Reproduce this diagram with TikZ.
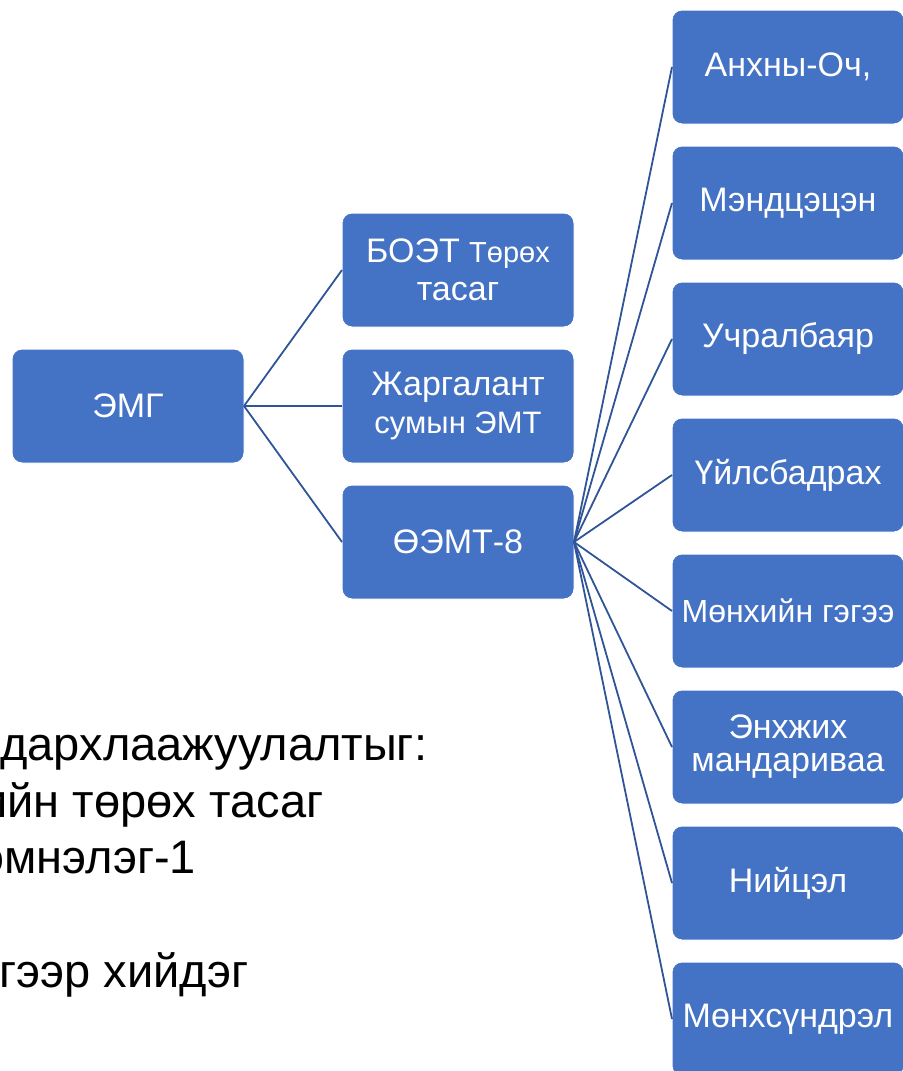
\documentclass[tikz,border=0pt]{standalone}
\usepackage{fontspec}
\setmainfont{Liberation Sans}
\usetikzlibrary{positioning}
\definecolor{boxblue}{HTML}{4472C4}
\definecolor{linkblue}{HTML}{2F5597}
\tikzset{orgbox/.style={rectangle,rounded corners=5pt,draw=white,line width=0.5pt,fill=boxblue,
text=white,align=center,inner sep=2pt,outer sep=0pt,minimum height=57pt, minimum width=116pt,
font=\fontsize{17}{19}\selectfont}}
\tikzset{orglink/.style={draw=linkblue,line width=0.9pt}}
\tikzset{notetext/.style={anchor=base west,inner sep=0pt,text=black,
font=\fontsize{23.5}{28}\selectfont}}

\begin{document}
\begin{tikzpicture}[x=0.5pt,y=-0.5pt]
        \clip (0,0) rectangle (903,1071);

        \node[orgbox] (emg) at (128,406) {ЭМГ};

        \node[orgbox] (jargalant) [right=49pt of emg] {Жаргалант\\{\fontsize{15.5}{18}\selectfont сумын ЭМТ}};
        \node[orgbox] (boet) [above=11pt of jargalant] {БОЭТ {\fontsize{14.5}{18}\selectfont Төрөх}\\тасаг};
        \node[orgbox] (oemt) [below=11pt of jargalant] {ӨЭМТ-8};

        \node[orgbox] (anhnyoch) at (788,67) {Анхны-Оч,};
        \node[orgbox] (mendtsetsen) [below=11pt of anhnyoch] {Мэндцэцэн};
        \node[orgbox] (uchralbayar) [below=11pt of mendtsetsen] {Учралбаяр};
        \node[orgbox] (uilsbadrah) [below=11pt of uchralbayar] {Үйлсбадрах};
        \node[orgbox,font=\fontsize{16}{18}\selectfont] (monhiingegee) [below=11pt of uilsbadrah] {Мөнхийн гэгээ};
        \node[orgbox,font=\fontsize{17}{16.5}\selectfont] (enhjih) [below=11pt of monhiingegee] {Энхжих\\мандариваа};
        \node[orgbox] (niitsel) [below=11pt of enhjih] {Нийцэл};
        \node[orgbox] (monhsundrel) [below=11pt of niitsel] {Мөнхсүндрэл};

        \draw [orglink] (emg.east) -- (boet.west);
        \draw [orglink] (emg.east) -- (jargalant.west);
        \draw [orglink] (emg.east) -- (oemt.west);

        \draw [orglink] (oemt.east) -- (anhnyoch.west);
        \draw [orglink] (oemt.east) -- (mendtsetsen.west);
        \draw [orglink] (oemt.east) -- (uchralbayar.west);
        \draw [orglink] (oemt.east) -- (uilsbadrah.west);
        \draw [orglink] (oemt.east) -- (monhiingegee.west);
        \draw [orglink] (oemt.east) -- (enhjih.west);
        \draw [orglink] (oemt.east) -- (niitsel.west);
        \draw [orglink] (oemt.east) -- (monhsundrel.west);

        \node[notetext] (noteA) at (0,760) {дархлаажуулалтыг:};
        \node[notetext] (noteB) at (-19,817) {ийн төрөх тасаг};
        \node[notetext] (noteC) at (-20,873) {эмнэлэг-1};
        \node[notetext] (noteD) at (-1,987) {гээр хийдэг};

\end{tikzpicture}
\end{document}
